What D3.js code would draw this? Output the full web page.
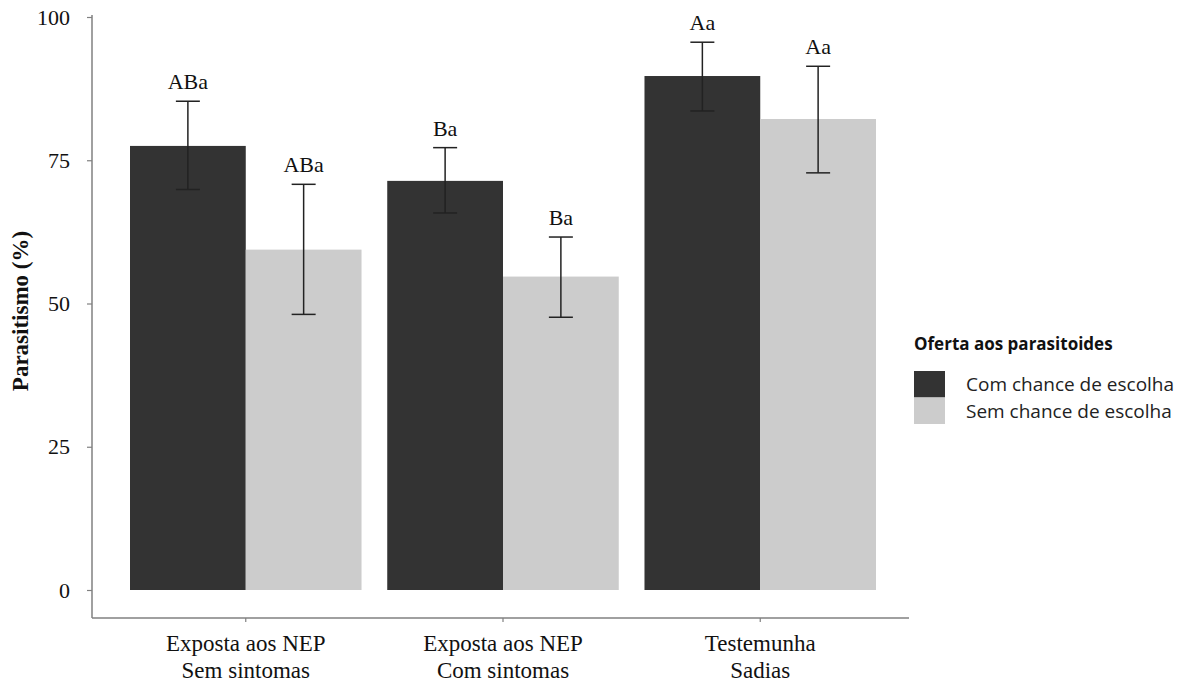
<!DOCTYPE html>
<html>
<head>
<meta charset="utf-8">
<script src="https://cdn.jsdelivr.net/npm/d3@7"></script>
<style>
body { margin: 0; background: #fff; }
svg { display: block; }
</style>
</head>
<body>
<svg id="chart" width="1198" height="682"></svg>
<script>
const categories = [["Exposta aos NEP", "Sem sintomas"], ["Exposta aos NEP", "Com sintomas"], ["Testemunha", "Sadias"]];
const seriesNames = ["Com chance de escolha", "Sem chance de escolha"];
const comValues = [77.5, 71.4, 89.7];
const semValues = [59.4, 54.7, 82.2];
const comLow = [69.9, 65.8, 83.6];
const comHigh = [85.3, 77.2, 95.6];
const semLow = [48.1, 47.6, 72.8];
const semHigh = [70.8, 61.6, 91.4];
const comLetters = ["ABa", "Ba", "Aa"];
const semLetters = ["ABa", "Ba", "Aa"];
const yTicks = [0, 25, 50, 75, 100];
const legendTitle = "Oferta aos parasitoides";
const yTitle = "Parasitismo (%)";
const colors = ["#333333", "#cccccc"];

const svg = d3.select("#chart");
const serif = "'Liberation Serif', 'Times New Roman', serif";
const sans = "'Open Sans', 'Noto Sans', sans-serif";

const catKeys = categories.map((c, i) => "c" + i);
const x = d3.scaleBand().domain(catKeys).range([130, 876]).paddingInner(0.1).paddingOuter(0);
const xs = d3.scaleBand().domain(seriesNames).range([0, x.bandwidth()]).padding(0);
const y = d3.scaleLinear().domain([0, 100]).range([590, 17]);

const rows = [];
catKeys.forEach((k, i) => {
  rows.push({cat: k, s: seriesNames[0], v: comValues[i], lo: comLow[i], hi: comHigh[i], lab: comLetters[i], c: colors[0]});
  rows.push({cat: k, s: seriesNames[1], v: semValues[i], lo: semLow[i], hi: semHigh[i], lab: semLetters[i], c: colors[1]});
});

// bars
svg.append("g").selectAll("rect").data(rows).join("rect")
  .attr("x", d => x(d.cat) + xs(d.s))
  .attr("width", xs.bandwidth())
  .attr("y", d => y(d.v))
  .attr("height", d => y(0) - y(d.v))
  .attr("fill", d => d.c);

// error bars
const eb = svg.append("g").attr("stroke", "#222").attr("stroke-width", 1.5);
rows.forEach(d => {
  const cx = x(d.cat) + xs(d.s) + xs.bandwidth() / 2;
  eb.append("line").attr("x1", cx).attr("x2", cx).attr("y1", y(d.hi)).attr("y2", y(d.lo));
  eb.append("line").attr("x1", cx - 12).attr("x2", cx + 12).attr("y1", y(d.hi)).attr("y2", y(d.hi));
  eb.append("line").attr("x1", cx - 12).attr("x2", cx + 12).attr("y1", y(d.lo)).attr("y2", y(d.lo));
});

// letters
svg.append("g").selectAll("text").data(rows).join("text")
  .attr("x", d => x(d.cat) + xs(d.s) + xs.bandwidth() / 2)
  .attr("y", d => y(d.hi) - 12)
  .attr("text-anchor", "middle")
  .attr("font-family", serif)
  .attr("font-size", 22)
  .attr("fill", "#111")
  .text(d => d.lab);

// y axis
const yAxis = svg.append("g").attr("transform", "translate(92,0)")
  .call(d3.axisLeft(y).tickValues(yTicks).tickSize(5).tickPadding(17).tickFormat(d3.format("d")));
yAxis.select(".domain").attr("d", `M0,${y(100) - 2}V618`).attr("stroke", "#808080").attr("stroke-width", 1.5);
yAxis.selectAll(".tick line").attr("stroke", "#808080").attr("stroke-width", 1.2);
yAxis.selectAll(".tick text").attr("font-family", serif).attr("font-size", 22).attr("fill", "#111");

// x axis
const xAxis = svg.append("g").attr("transform", "translate(0,618)")
  .call(d3.axisBottom(x).tickSize(4).tickFormat(() => ""));
xAxis.select(".domain").attr("d", "M92,0H909").attr("stroke", "#808080").attr("stroke-width", 1.5);
xAxis.selectAll(".tick line").attr("stroke", "#808080").attr("stroke-width", 1.2);
xAxis.selectAll(".tick").each(function(d, i) {
  const t = d3.select(this).append("text")
    .attr("text-anchor", "middle")
    .attr("font-family", serif)
    .attr("font-size", 23)
    .attr("fill", "#111");
  categories[i].forEach((ln, j) => {
    t.append("tspan").attr("x", 0).attr("y", 33 + j * 27).text(ln);
  });
});

// y title
svg.append("text")
  .attr("transform", "translate(28,311) rotate(-90)")
  .attr("text-anchor", "middle")
  .attr("font-family", serif)
  .attr("font-weight", "bold")
  .attr("font-size", 23)
  .attr("fill", "#111")
  .text(yTitle);

// legend
const lg = svg.append("g").attr("transform", "translate(914,0)");
lg.append("text").attr("x", 0).attr("y", 350)
  .attr("font-family", sans).attr("font-weight", "bold").attr("font-size", 17).attr("fill", "#111")
  .text(legendTitle);
seriesNames.forEach((s, i) => {
  lg.append("rect").attr("x", 0).attr("y", 371 + i * 26.5).attr("width", 31).attr("height", 26.5).attr("fill", colors[i]);
  lg.append("text").attr("x", 52).attr("y", 391 + i * 26.5)
    .attr("font-family", sans).attr("font-size", 19).attr("fill", "#222").text(s);
});
</script>
</body>
</html>
